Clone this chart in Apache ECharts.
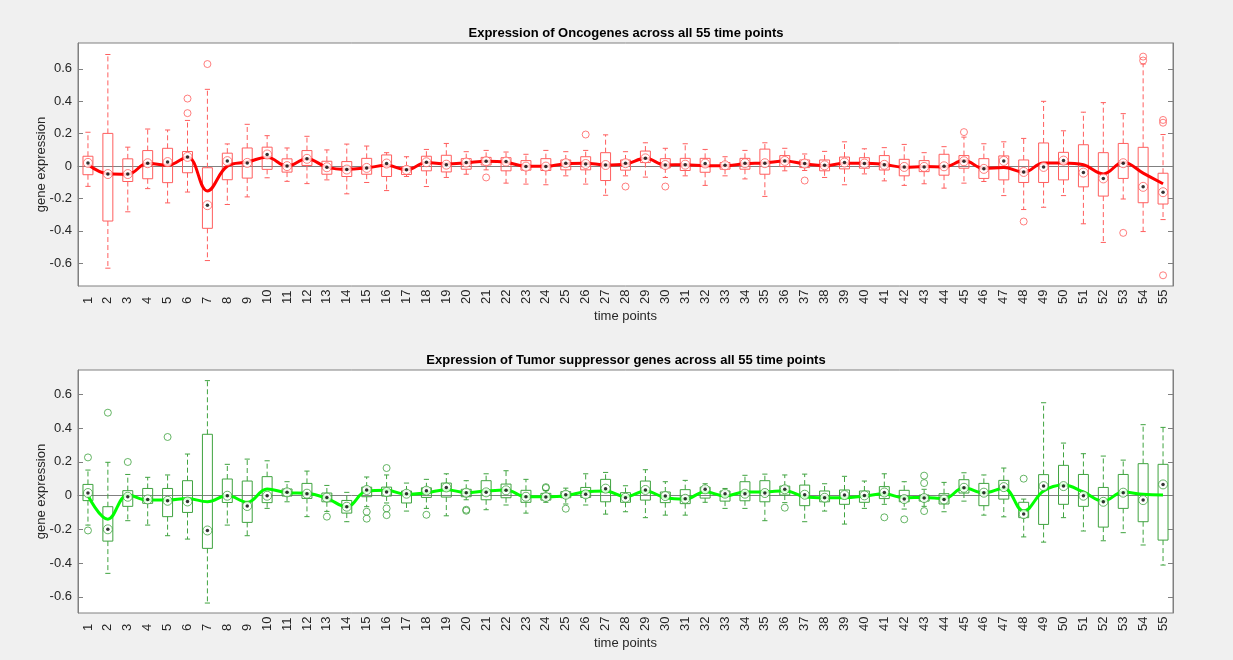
<!DOCTYPE html>
<html>
<head>
<meta charset="utf-8">
<script src="https://cdn.jsdelivr.net/npm/echarts@6/dist/echarts.min.js"></script>
<style>
html,body{margin:0;padding:0;background:#f0f0f0;}
#chart{width:1233px;height:660px;}
</style>
</head>
<body>
<div id="chart"></div>
<script>
// ---------- data ----------
const timePoints = Array.from({length: 55}, (_, i) => String(i + 1));
const yTicks = [-0.6, -0.4, -0.2, 0, 0.2, 0.4, 0.6];

// Oncogenes
const oncLow  = [-0.125,-0.63,-0.282,-0.139,-0.227,-0.16,-0.583,-0.237,-0.19,-0.072,-0.094,-0.108,-0.085,-0.171,-0.101,-0.151,-0.064,-0.126,-0.07,-0.05,-0.023,-0.105,-0.111,-0.115,-0.06,-0.111,-0.18,-0.06,-0.068,-0.07,-0.06,-0.119,-0.06,-0.079,-0.187,-0.029,-0.027,-0.07,-0.115,-0.048,-0.091,-0.119,-0.109,-0.136,-0.105,-0.095,-0.182,-0.268,-0.254,-0.182,-0.356,-0.471,-0.203,-0.404,-0.33];
const oncQ1   = [-0.053,-0.339,-0.095,-0.078,-0.102,-0.041,-0.384,-0.084,-0.074,-0.02,-0.037,0.004,-0.05,-0.064,-0.05,-0.064,-0.052,-0.029,-0.036,-0.019,0.007,-0.029,-0.025,-0.027,-0.023,-0.023,-0.089,-0.025,0.022,-0.011,-0.027,-0.038,-0.019,-0.019,-0.05,-0.003,-0.009,-0.029,-0.017,-0.013,-0.024,-0.06,-0.034,-0.056,-0.013,-0.076,-0.085,-0.101,-0.101,-0.085,-0.128,-0.185,-0.076,-0.226,-0.234];
const oncMed  = [0.02,-0.049,-0.049,0.018,0.025,0.057,-0.241,0.031,0.02,0.072,0.0,0.045,-0.007,-0.021,-0.011,0.016,-0.023,0.024,0.009,0.022,0.03,0.028,-0.003,-0.003,0.018,0.013,0.007,0.018,0.048,0.007,0.009,0.016,0.005,0.018,0.018,0.032,0.016,0.005,0.022,0.016,0.008,-0.005,-0.005,-0.001,0.03,-0.017,0.032,-0.036,-0.005,0.034,-0.04,-0.076,0.018,-0.128,-0.161];
const oncQ3   = [0.061,0.202,0.045,0.096,0.11,0.09,-0.01,0.08,0.112,0.117,0.045,0.096,0.03,0.028,0.048,0.069,-0.003,0.061,0.067,0.046,0.054,0.052,0.034,0.046,0.038,0.058,0.083,0.038,0.093,0.046,0.048,0.048,0.022,0.048,0.105,0.065,0.038,0.038,0.056,0.052,0.065,0.042,0.034,0.073,0.065,0.046,0.063,0.038,0.143,0.085,0.132,0.083,0.14,0.116,-0.044];
const oncHigh = [0.209,0.689,0.117,0.229,0.223,0.282,0.474,0.137,0.258,0.188,0.112,0.184,0.1,0.136,0.124,0.083,0.058,0.103,0.14,0.089,0.097,0.087,0.073,0.097,0.089,0.097,0.193,0.089,0.144,0.11,0.138,0.103,0.058,0.097,0.144,0.11,0.075,0.091,0.15,0.107,0.114,0.134,0.083,0.12,0.179,0.138,0.15,0.171,0.4,0.218,0.333,0.392,0.324,0.63,0.195];
const oncLine = [0.01,-0.047,-0.05,0.018,0.005,0.057,-0.153,0.0,0.025,0.055,0.0,0.045,-0.006,-0.02,-0.011,0.005,-0.023,0.022,0.013,0.02,0.03,0.024,-0.001,-0.001,0.015,0.018,0.007,0.013,0.048,0.007,0.009,0.003,0.003,0.015,0.02,0.032,0.014,0.003,0.018,0.018,0.01,-0.007,-0.003,-0.005,0.034,-0.015,-0.009,-0.038,0.02,0.02,0.008,-0.048,0.024,-0.043,-0.109];
const oncOutliers = [[6,0.327],[6,0.417],[7,0.63],[21,-0.07],[26,0.195],[28,-0.126],[30,-0.126],[37,-0.089],[45,0.21],[48,-0.342],[53,-0.412],[54,0.676],[54,0.652],[55,0.285],[55,0.268],[55,-0.674]];

// Tumor suppressor genes
const tsgLow  = [-0.175,-0.461,-0.149,-0.175,-0.238,-0.258,-0.637,-0.175,-0.238,-0.076,-0.037,-0.125,-0.094,-0.155,-0.066,-0.044,-0.092,-0.076,-0.12,-0.025,-0.084,-0.056,-0.104,-0.04,-0.05,-0.056,-0.11,-0.096,-0.131,-0.116,-0.116,-0.04,-0.076,-0.076,-0.149,-0.042,-0.155,-0.092,-0.169,-0.076,-0.052,-0.08,-0.064,-0.096,-0.033,-0.116,-0.126,-0.245,-0.276,-0.131,-0.21,-0.268,-0.22,-0.293,-0.412];
const tsgQ1   = [-0.03,-0.27,-0.064,-0.046,-0.125,-0.1,-0.313,-0.041,-0.159,-0.042,-0.003,-0.017,-0.037,-0.104,-0.007,-0.003,-0.044,-0.011,-0.009,-0.007,-0.025,-0.013,-0.04,-0.027,-0.013,-0.011,-0.037,-0.04,-0.027,-0.042,-0.048,-0.015,-0.033,-0.031,-0.037,0.003,-0.06,-0.037,-0.052,-0.04,-0.018,-0.037,-0.033,-0.05,0.015,-0.06,-0.021,-0.131,-0.171,-0.052,-0.064,-0.187,-0.076,-0.155,-0.264];
const tsgMed  = [0.015,-0.2,-0.007,-0.023,-0.031,-0.035,-0.207,-0.001,-0.062,-0.001,0.019,0.011,-0.012,-0.066,0.033,0.021,0.011,0.029,0.048,0.017,0.019,0.031,-0.007,-0.009,0.005,0.007,0.041,-0.013,0.033,-0.003,-0.019,0.037,0.011,0.011,0.015,0.037,0.005,-0.013,0.003,0.001,0.018,-0.021,-0.015,-0.023,0.046,0.017,0.05,-0.11,0.056,0.056,-0.001,-0.037,0.017,-0.027,0.066];
const tsgQ3   = [0.066,-0.066,0.029,0.042,0.042,0.088,0.363,0.098,0.086,0.112,0.039,0.072,0.015,-0.029,0.05,0.05,0.027,0.046,0.074,0.037,0.088,0.068,0.031,0.013,0.023,0.048,0.096,0.017,0.086,0.021,0.035,0.05,0.027,0.082,0.088,0.056,0.062,0.027,0.033,0.027,0.053,0.031,0.003,0.011,0.094,0.072,0.09,-0.04,0.124,0.179,0.125,0.048,0.125,0.189,0.185];
const tsgHigh = [0.151,0.197,0.125,0.108,0.122,0.246,0.681,0.185,0.216,0.206,0.082,0.145,0.06,0.019,0.11,0.122,0.074,0.096,0.129,0.088,0.129,0.147,0.096,0.03,0.044,0.129,0.137,0.058,0.153,0.082,0.09,0.07,0.042,0.12,0.127,0.122,0.127,0.07,0.114,0.086,0.129,0.082,0.037,0.078,0.135,0.122,0.163,-0.021,0.55,0.311,0.248,0.234,0.21,0.42,0.404];
const tsgLine = [0.0,-0.14,0.003,-0.027,-0.027,-0.017,-0.037,0.0,-0.04,0.039,0.017,0.013,-0.017,-0.066,0.027,0.031,0.007,0.017,0.035,0.017,0.027,0.033,-0.007,-0.007,-0.001,0.023,0.027,-0.007,0.027,-0.013,-0.021,0.023,-0.003,0.021,0.021,0.029,-0.007,-0.013,-0.013,-0.003,0.01,-0.013,-0.011,-0.019,0.046,0.015,0.043,-0.092,0.027,0.062,0.021,-0.033,0.021,0.007,0.003];
const tsgOutliers = [[1,0.226],[1,-0.207],[2,0.491],[3,0.199],[5,0.347],[13,-0.125],[15,-0.096],[15,-0.137],[16,0.163],[16,-0.076],[16,-0.116],[18,-0.114],[20,-0.084],[20,-0.09],[24,0.05],[24,0.045],[25,-0.078],[36,-0.072],[41,-0.129],[42,-0.141],[43,0.118],[43,0.074],[43,-0.092],[48,0.1]];

// ---------- styles ----------
const FONT = "'Liberation Sans', Arial, Helvetica, sans-serif";
const TXT = '#262626';
const AX = '#808080';
const panels = [
  {title: 'Expression of Oncogenes across all 55 time points', top: 43, min: -0.74, max: 0.76,
   low: oncLow, q1: oncQ1, med: oncMed, q3: oncQ3, high: oncHigh, line: oncLine, out: oncOutliers,
   boxColor: '#ff5e5e', lineColor: '#ff0000'},
  {title: 'Expression of Tumor suppressor genes across all 55 time points', top: 370, min: -0.696, max: 0.744,
   low: tsgLow, q1: tsgQ1, med: tsgMed, q3: tsgQ3, high: tsgHigh, line: tsgLine, out: tsgOutliers,
   boxColor: '#3fa33f', lineColor: '#00ff00'}
];
const GH = 243;

function boxRenderer(color) {
  return function (params, api) {
    const i = api.value(0);
    const pLow = api.coord([i, api.value(1)]);
    const pQ1 = api.coord([i, api.value(2)]);
    const pQ3 = api.coord([i, api.value(4)]);
    const pHigh = api.coord([i, api.value(5)]);
    const band = api.size([1, 0])[0];
    const bw = band * 0.5;
    const cw = band * 0.26;
    const cx = pQ1[0];
    const dash = {stroke: color, lineWidth: 1, lineDash: [5, 3]};
    const solid = {stroke: color, lineWidth: 1};
    return {type: 'group', children: [
      {type: 'line', shape: {x1: cx, y1: pQ3[1], x2: cx, y2: pHigh[1]}, style: dash},
      {type: 'line', shape: {x1: cx, y1: pQ1[1], x2: cx, y2: pLow[1]}, style: dash},
      {type: 'line', shape: {x1: cx - cw / 2, y1: pHigh[1], x2: cx + cw / 2, y2: pHigh[1]}, style: solid},
      {type: 'line', shape: {x1: cx - cw / 2, y1: pLow[1], x2: cx + cw / 2, y2: pLow[1]}, style: solid},
      {type: 'rect', shape: {x: cx - bw / 2, y: pQ3[1], width: bw, height: pQ1[1] - pQ3[1]},
       style: {fill: 'none', stroke: color, lineWidth: 1}}
    ]};
  };
}

const grid = [], xAxis = [], yAxis = [], series = [], title = [];
panels.forEach((p, k) => {
  grid.push({left: 78, right: 60, top: p.top, height: GH, show: true, backgroundColor: '#ffffff',
             borderColor: AX, borderWidth: 1, containLabel: false});
  title.push({text: p.title, left: 626, top: p.top - 16, textAlign: 'center', padding: 0,
              textStyle: {fontFamily: FONT, fontSize: 13, fontWeight: 'bold', color: '#000'}});
  xAxis.push({type: 'category', gridIndex: k, data: timePoints, boundaryGap: true,
    name: 'time points', nameLocation: 'middle', nameGap: 24,
    nameTextStyle: {fontFamily: FONT, fontSize: 13, color: TXT},
    axisLine: {lineStyle: {color: AX}}, axisTick: {show: false},
    axisLabel: {interval: 0, rotate: 90, align: 'left', margin: 18, fontFamily: FONT, fontSize: 13, color: TXT},
    splitLine: {show: false}});
  yAxis.push({type: 'value', gridIndex: k, min: p.min, max: p.max, position: 'left',
    name: 'gene expression', nameLocation: 'middle', nameGap: 30, nameMoveOverlap: false,
    nameTextStyle: {fontFamily: FONT, fontSize: 13, color: TXT},
    axisLine: {show: true, lineStyle: {color: AX}},
    axisTick: {show: true, inside: true, length: 5, customValues: yTicks, lineStyle: {color: AX}},
    axisLabel: {customValues: yTicks, margin: 6, fontFamily: FONT, fontSize: 13, color: TXT,
                formatter: v => String(Math.round(v * 10) / 10)},
    splitLine: {show: false}});
  yAxis.push({type: 'value', gridIndex: k, min: p.min, max: p.max, position: 'right',
    axisLine: {show: true, lineStyle: {color: AX}},
    axisTick: {show: true, inside: true, length: 5, customValues: yTicks, lineStyle: {color: AX}},
    axisLabel: {show: false}, splitLine: {show: false}});
  const yi = k * 2;
  const boxData = timePoints.map((_, i) => [i, p.low[i], p.q1[i], p.med[i], p.q3[i], p.high[i]]);
  series.push({type: 'custom', xAxisIndex: k, yAxisIndex: yi, renderItem: boxRenderer(p.boxColor),
    encode: {x: 0, y: [1, 2, 3, 4, 5]}, data: boxData, z: 2, silent: true});
  series.push({type: 'line', xAxisIndex: k, yAxisIndex: yi, data: p.line, smooth: 0.4, symbol: 'none',
    lineStyle: {color: p.lineColor, width: 3}, z: 3, silent: true});
  series.push({type: 'scatter', xAxisIndex: k, yAxisIndex: yi,
    data: p.out.map(o => [o[0] - 1, o[1]]), symbol: 'circle', symbolSize: 7,
    itemStyle: {color: 'rgba(255,255,255,0)', borderColor: p.boxColor, borderWidth: 1}, z: 4, silent: true});
  series.push({type: 'scatter', xAxisIndex: k, yAxisIndex: yi,
    data: p.med.map((v, i) => [i, v]), symbol: 'circle', symbolSize: 9,
    itemStyle: {color: '#ffffff', borderColor: p.boxColor, borderWidth: 1}, z: 5, silent: true});
  series.push({type: 'scatter', xAxisIndex: k, yAxisIndex: yi,
    data: p.med.map((v, i) => [i, v]), symbol: 'circle', symbolSize: 3.5,
    itemStyle: {color: '#000000'}, z: 6, silent: true});
});

const chart = echarts.init(document.getElementById('chart'), null, {renderer: 'canvas'});
chart.setOption({
  backgroundColor: '#f0f0f0',
  animation: false,
  title, grid, xAxis, yAxis, series
});
</script>
</body>
</html>
